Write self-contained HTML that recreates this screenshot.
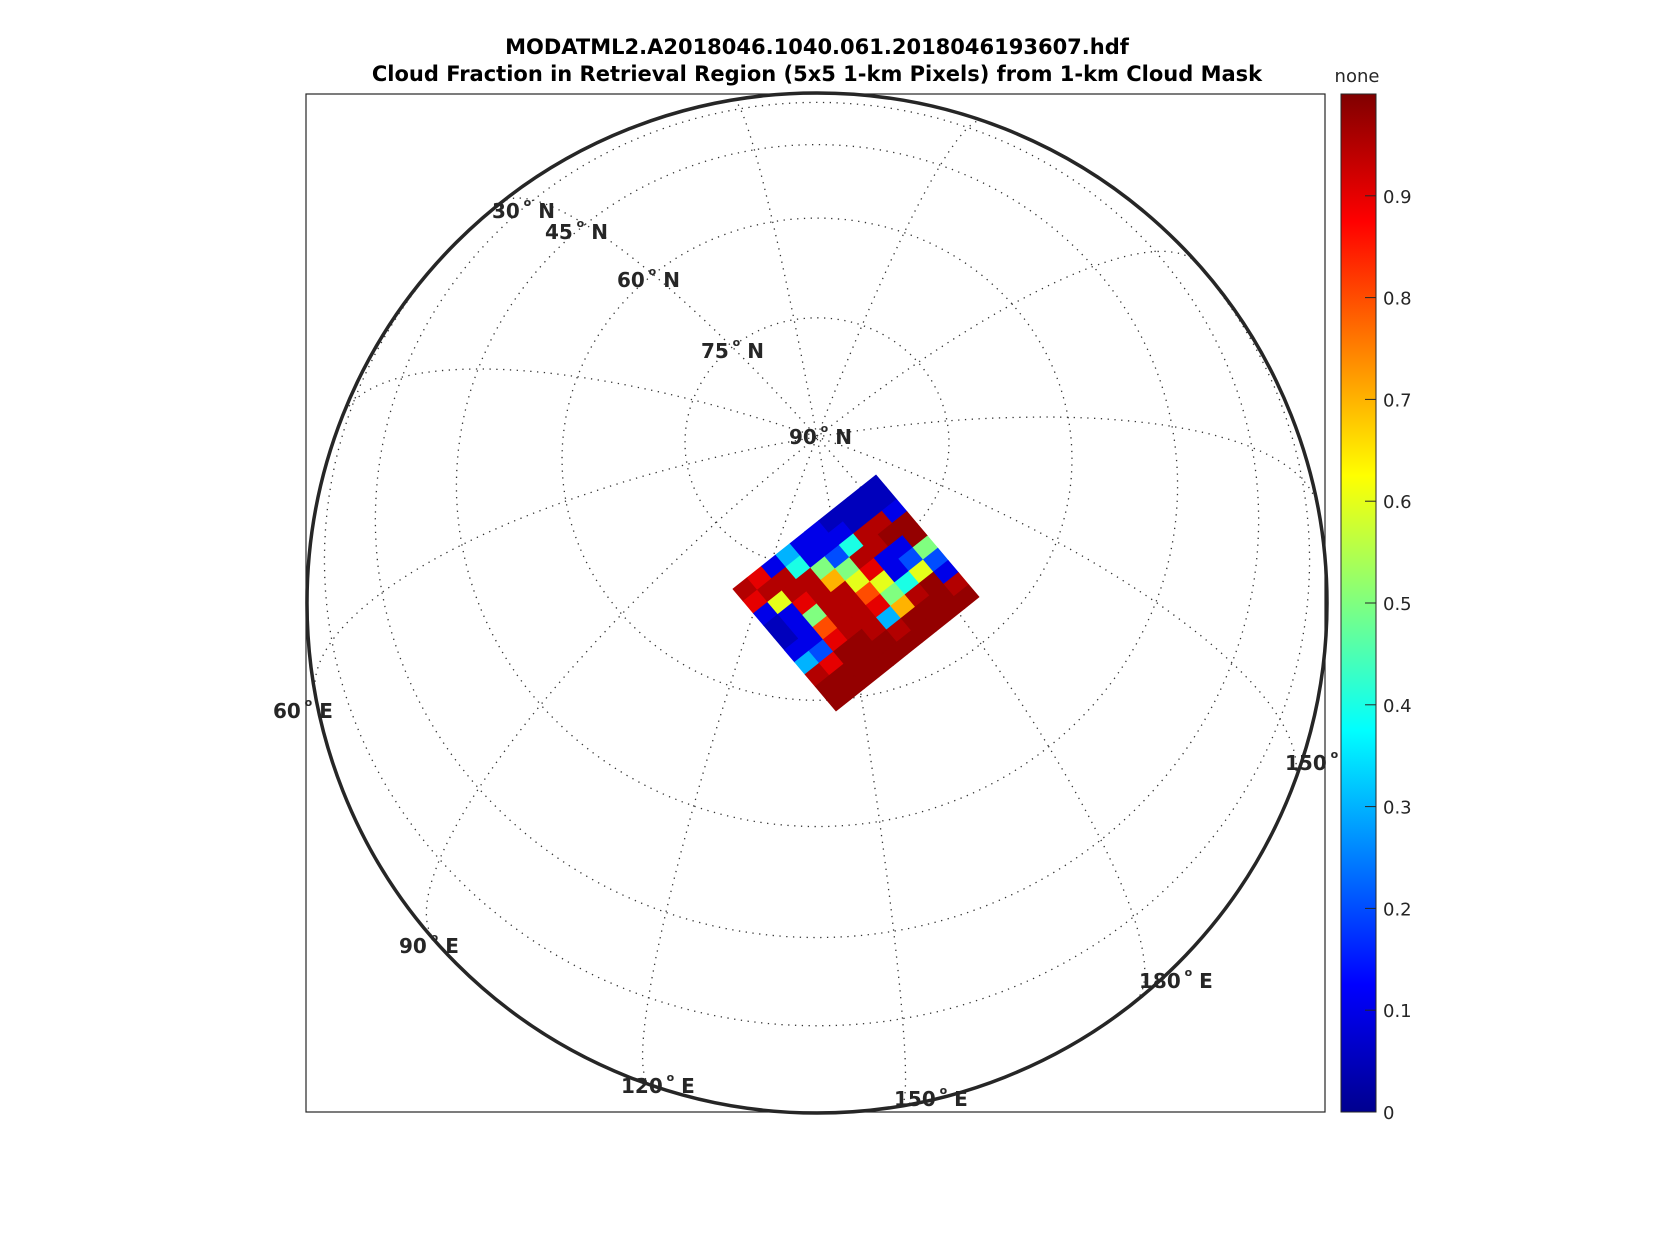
<!DOCTYPE html>
<html><head><meta charset="utf-8"><style>
html,body{margin:0;padding:0;background:#fff;}
svg{display:block;font-family:"DejaVu Sans","Liberation Sans",sans-serif;}
</style></head><body>
<svg id="chart" width="1667" height="1250" viewBox="0 0 1667 1250" xmlns="http://www.w3.org/2000/svg">
<defs>
<linearGradient id="jet" x1="0" y1="1" x2="0" y2="0">
<stop offset="0" stop-color="#00008f"/><stop offset="0.125" stop-color="#0000ff"/>
<stop offset="0.375" stop-color="#00ffff"/><stop offset="0.625" stop-color="#ffff00"/>
<stop offset="0.875" stop-color="#ff0000"/><stop offset="1" stop-color="#800000"/>
</linearGradient>
<clipPath id="globeclip"><circle cx="817" cy="603" r="510"/></clipPath>
</defs>
<text x="817" y="54" text-anchor="middle" font-size="21" font-weight="bold" fill="#000">MODATML2.A2018046.1040.061.2018046193607.hdf</text>
<text x="817" y="81" text-anchor="middle" font-size="21" font-weight="bold" fill="#000">Cloud Fraction in Retrieval Region (5x5 1-km Pixels) from 1-km Cloud Mask</text>
<rect x="306" y="94" width="1019" height="1018" fill="#fff" stroke="#262626" stroke-width="1.2"/>
<g id="graticule" clip-path="url(#globeclip)"></g>
<g id="swath"></g>
<circle cx="817" cy="603" r="510" fill="none" stroke="#262626" stroke-width="3.5"/>
<g font-size="20" font-weight="bold" fill="#262626">
<text x="492" y="218">30<tspan font-size="11" dy="-12"> o</tspan><tspan dy="12">  N</tspan></text>
<text x="545" y="239">45<tspan font-size="11" dy="-12"> o</tspan><tspan dy="12">  N</tspan></text>
<text x="617" y="287">60<tspan font-size="11" dy="-12"> o</tspan><tspan dy="12">  N</tspan></text>
<text x="701" y="358">75<tspan font-size="11" dy="-12"> o</tspan><tspan dy="12">  N</tspan></text>
<text x="789" y="444">90<tspan font-size="11" dy="-12"> o</tspan><tspan dy="12">  N</tspan></text>
<text x="273" y="718">60<tspan font-size="11" dy="-12"> o</tspan><tspan dy="12">  E</tspan></text>
<text x="399" y="953">90<tspan font-size="11" dy="-12"> o</tspan><tspan dy="12">  E</tspan></text>
<text x="621" y="1093">120<tspan font-size="11" dy="-12"> o</tspan><tspan dy="12">  E</tspan></text>
<text x="894" y="1106">150<tspan font-size="11" dy="-12"> o</tspan><tspan dy="12">  E</tspan></text>
<text x="1139" y="988">180<tspan font-size="11" dy="-12"> o</tspan><tspan dy="12">  E</tspan></text>
<text x="1285" y="770">150<tspan font-size="11" dy="-12"> o</tspan></text>
</g>
<rect x="1341" y="94" width="35" height="1018" fill="url(#jet)" stroke="#262626" stroke-width="1"/>
<text x="1357" y="82" text-anchor="middle" font-size="18" fill="#262626">none</text>
<g id="cbticks"></g>
</svg>
<script>
const cbTicks = [0, 0.1, 0.2, 0.3, 0.4, 0.5, 0.6, 0.7, 0.8, 0.9];
const cbTickLabels = ["0","0.1","0.2","0.3","0.4","0.5","0.6","0.7","0.8","0.9"];
const latCircles = [15, 30, 45, 60, 75];
const lonMeridians = [0, 30, 60, 90, 120, 150, 180, 210, 240, 270, 300, 330];
// cloud fraction grid: rows along left->bottom edge, cols along left->top edge
const cloudRows = [
[0.95,0.9,0.1,0.3,0.1,0.1,0.05,0.05,0.05,0.05],
[0.9,0.95,0.95,0.4,0.1,0.1,0.1,0.05,0.05,0.05],
[0.1,0.6,0.95,0.95,0.5,0.2,0.4,0.95,0.95,0.1],
[0.05,0.1,0.9,0.95,0.7,0.5,0.95,0.95,0.98,0.98],
[0.05,0.1,0.5,0.95,0.95,0.6,0.9,0.1,0.1,0.98],
[0.1,0.1,0.8,0.95,0.95,0.8,0.6,0.1,0.2,0.5],
[0.3,0.2,0.9,0.95,0.95,0.9,0.5,0.4,0.6,0.2],
[0.95,0.9,0.98,0.98,0.95,0.3,0.7,0.95,0.98,0.1],
[0.98,0.98,0.98,0.98,0.98,0.95,0.98,0.98,0.98,0.95],
[0.98,0.98,0.98,0.98,0.98,0.98,0.98,0.98,0.98,0.98]
];
const NS='http://www.w3.org/2000/svg';
const CX=817, CY=603, R=510, PHI0=71*Math.PI/180, LAM0=140;
function proj(lat, lon){
  const p=lat*Math.PI/180, d=(lon-LAM0)*Math.PI/180;
  const cosc=Math.sin(PHI0)*Math.sin(p)+Math.cos(PHI0)*Math.cos(p)*Math.cos(d);
  return {x:CX+R*Math.cos(p)*Math.sin(d), y:CY-R*(Math.cos(PHI0)*Math.sin(p)-Math.sin(PHI0)*Math.cos(p)*Math.cos(d)), v:cosc>=0};
}
const gr=document.getElementById('graticule');
function addPath(pts){
  let d='', pen=false;
  for(const q of pts){ if(q.v){ d+=(pen?'L':'M')+q.x.toFixed(1)+' '+q.y.toFixed(1); pen=true;} else pen=false; }
  if(!d) return;
  const el=document.createElementNS(NS,'path');
  el.setAttribute('d',d);el.setAttribute('fill','none');el.setAttribute('stroke','#333');
  el.setAttribute('stroke-width','1.3');el.setAttribute('stroke-dasharray','1.3 5.5');
  
  
  gr.appendChild(el);
}
latCircles.forEach(lat=>{const pts=[];for(let l=0;l<=360;l+=2)pts.push(proj(lat,l));addPath(pts);});
lonMeridians.forEach(lon=>{const pts=[];for(let la=-90;la<=90;la+=1.5)pts.push(proj(la,lon));addPath(pts);});
function jet(v){
  const stops=[[0,[0,0,143]],[0.125,[0,0,255]],[0.375,[0,255,255]],[0.625,[255,255,0]],[0.875,[255,0,0]],[1,[128,0,0]]];
  for(let i=1;i<stops.length;i++){ if(v<=stops[i][0]){const a=stops[i-1],b=stops[i],t=(v-a[0])/(b[0]-a[0]);
    return 'rgb('+a[1].map((c,k)=>Math.round(c+(b[1][k]-c)*t)).join(',')+')';}}
  return 'rgb(128,0,0)';
}
const sw=document.getElementById('swath');
const L=[733,589], A=[143,-114], B=[103,122];
const nr=cloudRows.length, nc=cloudRows[0].length;
for(let j=0;j<nr;j++)for(let i=0;i<nc;i++){
  const pt=(u,w)=>[L[0]+A[0]*u/nc+B[0]*w/nr, L[1]+A[1]*u/nc+B[1]*w/nr];
  const c=[pt(i,j),pt(i+1,j),pt(i+1,j+1),pt(i,j+1)];
  const el=document.createElementNS(NS,'polygon');
  el.setAttribute('points',c.map(p=>p[0].toFixed(1)+','+p[1].toFixed(1)).join(' '));
  const col=jet(cloudRows[j][i]);
  el.setAttribute('fill',col);el.setAttribute('stroke',col);el.setAttribute('stroke-width','0.8');
  
  
  sw.appendChild(el);
}
const cb=document.getElementById('cbticks');
const cbY=v=>1112-v*1018;
cbTicks.forEach((v,k)=>{
  const y=cbY(v);
  if(v>0){const t=document.createElementNS(NS,'line');
    t.setAttribute('x1',1365);t.setAttribute('x2',1376);t.setAttribute('y1',y);t.setAttribute('y2',y);
    t.setAttribute('stroke','#262626');
    
    
    cb.appendChild(t);}
  const tx=document.createElementNS(NS,'text');
  tx.setAttribute('x',1383);tx.setAttribute('y',y+7);tx.setAttribute('font-size','18');tx.setAttribute('fill','#262626');
  tx.textContent=cbTickLabels[k];
  
  
  cb.appendChild(tx);
});
</script>
</body></html>
